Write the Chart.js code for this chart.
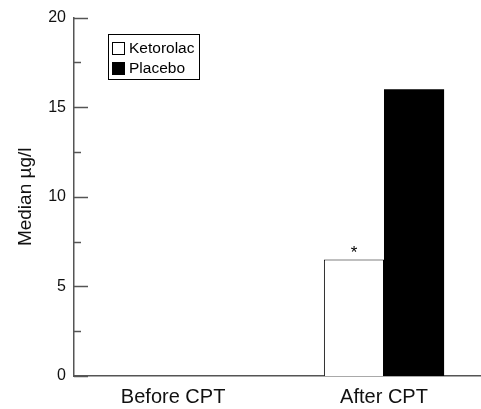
<!DOCTYPE html>
<html>
<head>
<meta charset="utf-8">
<script src="https://cdn.jsdelivr.net/npm/chart.js@4.4.1/dist/chart.umd.min.js"></script>
<style>
  html, body { margin: 0; padding: 0; background: #fff; }
</style>
</head>
<body>
<canvas id="cpt_chart" width="481" height="409"></canvas>
<script>
const ctx = document.getElementById("cpt_chart").getContext("2d");

// === data ===
const categories = ["Before CPT", "After CPT"];
const categoryPos = [1, 2]; // index of each group on the x scale
const ketorolac = [0, 6.5];
const placebo = [0, 16];
const ketorolacMarks = ["", "*"]; // significance marks over the bars
const yMajorTicks = [0, 5, 10, 15, 20];
const yMinorTicks = [2.5, 7.5, 12.5, 17.5];

const FONT = "'Liberation Sans', Arial, Helvetica, sans-serif";
const AXIS = "#555";

// ticks on the y axis point into the plot, so draw them ourselves
const inwardTicks = {
  id: "inwardTicks",
  afterDraw(chart) {
    const y = chart.scales.y;
    const left = chart.chartArea.left;
    const c = chart.ctx;
    c.save();
    c.strokeStyle = AXIS;
    c.lineWidth = 1.5;
    const tick = (v, len) => {
      const py = Math.round(y.getPixelForValue(v)) + 0.5;
      c.beginPath();
      c.moveTo(left, py);
      c.lineTo(left + len, py);
      c.stroke();
    };
    yMajorTicks.forEach((v) => tick(v, 14));
    yMinorTicks.forEach((v) => tick(v, 7));
    c.restore();
  },
};

// asterisk over the ketorolac bar
const barMarks = {
  id: "barMarks",
  afterDatasetsDraw(chart) {
    const meta = chart.getDatasetMeta(0);
    const c = chart.ctx;
    c.save();
    c.fillStyle = "#000";
    c.font = "17px " + FONT;
    c.textAlign = "center";
    c.textBaseline = "bottom";
    meta.data.forEach((bar, i) => {
      if (ketorolacMarks[i]) c.fillText(ketorolacMarks[i], bar.x, bar.y + 2);
    });
    c.restore();
  },
};

// boxed legend in the upper left of the plot
const boxLegend = {
  id: "boxLegend",
  afterDraw(chart) {
    const c = chart.ctx;
    const x0 = 108, y0 = 34, w = 91, h = 45;
    c.save();
    c.strokeStyle = "#000";
    c.lineWidth = 1;
    c.strokeRect(x0 + 0.5, y0 + 0.5, w, h);
    c.font = "15.5px " + FONT;
    c.textBaseline = "middle";
    chart.data.datasets.forEach((ds, i) => {
      const cy = y0 + 14 + i * 20;
      c.fillStyle = ds.backgroundColor;
      c.fillRect(x0 + 4, cy - 6, 13, 13);
      c.strokeStyle = "#000";
      c.strokeRect(x0 + 4.5, cy - 5.5, 12, 12);
      c.fillStyle = "#000";
      c.fillText(ds.label, x0 + 21, cy + 1);
    });
    c.restore();
  },
};

new Chart(ctx, {
  type: "bar",
  data: {
    datasets: [
      {
        label: "Ketorolac",
        data: categoryPos.map((x, i) => ({ x, y: ketorolac[i] })),
        backgroundColor: "#fff",
        borderColor: "#000",
        borderWidth: 1,
      },
      {
        label: "Placebo",
        data: categoryPos.map((x, i) => ({ x, y: placebo[i] })),
        backgroundColor: "#000",
        borderColor: "#000",
        borderWidth: 0,
      },
    ],
  },
  options: {
    responsive: false,
    animation: false,
    devicePixelRatio: 1,
    categoryPercentage: 0.57,
    barPercentage: 1,
    layout: { padding: { top: 17, right: 0, left: 0, bottom: 0 } },
    plugins: {
      legend: { display: false },
      tooltip: { enabled: false },
    },
    scales: {
      x: {
        type: "linear",
        offset: false,
        min: 0.53,
        max: 2.46,
        afterBuildTicks: (axis) => {
          axis.ticks = categoryPos.map((v) => ({ value: v }));
        },
        afterFit: (scale) => {
          scale.height = 33;
        },
        grid: { display: false, drawTicks: false },
        border: { display: true, color: AXIS, width: 1.5 },
        ticks: {
          padding: 9,
          color: "#111",
          maxRotation: 0,
          font: { family: FONT, size: 20 },
          callback: (v) => categories[categoryPos.indexOf(v)] || "",
        },
      },
      y: {
        min: 0,
        max: 20,
        afterBuildTicks: (axis) => {
          axis.ticks = yMajorTicks.map((v) => ({ value: v }));
        },
        afterFit: (scale) => {
          scale.width = 74;
        },
        grid: { display: false, drawTicks: false },
        border: { display: true, color: AXIS, width: 1.5 },
        ticks: {
          padding: 8,
          color: "#111",
          font: { family: FONT, size: 16 },
        },
        title: {
          display: true,
          text: "Median µg/l",
          color: "#111",
          padding: { top: 14, bottom: 0 },
          font: { family: FONT, size: 19 },
        },
      },
    },
  },
  plugins: [inwardTicks, barMarks, boxLegend],
});
</script>
</body>
</html>
